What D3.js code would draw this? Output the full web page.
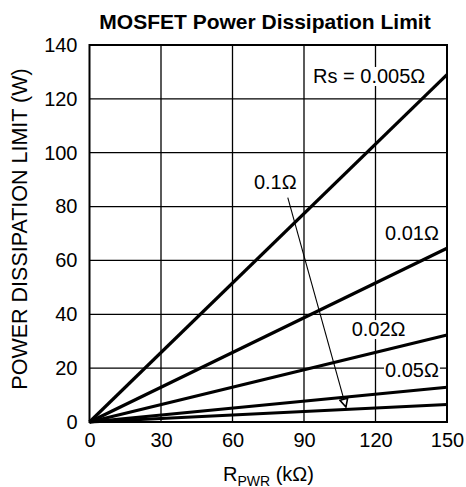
<!DOCTYPE html>
<html>
<head>
<meta charset="utf-8">
<script src="https://cdn.jsdelivr.net/npm/d3@7"></script>
<style>
  body { margin: 0; background: #fff; }
  text { font-family: "Liberation Sans", Arial, Helvetica, sans-serif; fill: #000; }
</style>
</head>
<body>
<svg id="chart" width="466" height="487"></svg>
<script>
// R_PWR end points (kOhm) and power limit (W) for each sense resistor
const rPwr = [0, 150];
const rsNames = ["0.005", "0.01", "0.02", "0.05", "0.1"];
const pRs0005 = [0, 129];
const pRs001 = [0, 64.5];
const pRs002 = [0, 32.3];
const pRs005 = [0, 12.9];
const pRs01 = [0, 6.5];
const xTicks = [0, 30, 60, 90, 120, 150];
const yTicks = [0, 20, 40, 60, 80, 100, 120, 140];

// label anchor spots, in data units
const labelR = [93.8, 124.0, 110.0, 124.0, 69.0];
const labelP = [125.9, 67.6, 31.9, 16.6, 86.5];

const series = [pRs0005, pRs001, pRs002, pRs005, pRs01];

const svg = d3.select("#chart");

const margin = { top: 45, right: 19, bottom: 65, left: 89.5 },
  width = 466 - margin.left - margin.right,
  height = 487 - margin.top - margin.bottom;

const x = d3.scaleLinear().domain([0, 150]).range([0, width]);
const y = d3.scaleLinear().domain([0, 140]).range([height, 0]);

const g = svg.append("g")
  .attr("transform", "translate(" + margin.left + "," + margin.top + ")");

// title
svg.append("text")
  .attr("x", 265)
  .attr("y", 29)
  .attr("text-anchor", "middle")
  .style("font-weight", "bold")
  .style("font-size", "21px")
  .text("MOSFET Power Dissipation Limit");

// grid
g.selectAll(".vgrid")
  .data(xTicks.slice(1, -1))
  .enter().append("line")
  .attr("x1", d => x(d)).attr("x2", d => x(d))
  .attr("y1", 0).attr("y2", height)
  .attr("stroke", "#000").attr("stroke-width", 1.3);

g.selectAll(".hgrid")
  .data(yTicks.slice(1, -1))
  .enter().append("line")
  .attr("y1", d => y(d)).attr("y2", d => y(d))
  .attr("x1", 0).attr("x2", width)
  .attr("stroke", "#000").attr("stroke-width", 1.3);

// axes
let xAxisG = g.append("g")
  .attr("transform", "translate(0," + height + ")")
  .call(d3.axisBottom(x).tickValues(xTicks).tickSize(0).tickPadding(11));
xAxisG.select(".domain").remove();
xAxisG.selectAll("text").style("font-size", "20px").style("font-family", null);

let yAxisG = g.append("g")
  .call(d3.axisLeft(y).tickValues(yTicks).tickSize(0).tickPadding(12));
yAxisG.select(".domain").remove();
yAxisG.selectAll("text").style("font-size", "20px").style("font-family", null);

// lines
const line = d3.line()
  .x((d, i) => x(rPwr[i]))
  .y(d => y(d));

g.selectAll(".rs-line")
  .data(series)
  .enter().append("path")
  .attr("fill", "none")
  .attr("stroke", "#000")
  .attr("stroke-width", 3.2)
  .attr("d", line);

// frame
g.append("rect")
  .attr("width", width).attr("height", height)
  .attr("fill", "none")
  .attr("stroke", "#000")
  .attr("stroke-width", 2);

// arrow from 0.1 label down to its line
svg.append("defs").append("marker")
  .attr("id", "head")
  .attr("markerUnits", "userSpaceOnUse")
  .attr("viewBox", "0 0 10 10")
  .attr("refX", 9).attr("refY", 5)
  .attr("markerWidth", 10).attr("markerHeight", 10)
  .attr("orient", "auto")
  .append("path")
  .attr("d", "M1,1 L9,5 L1,9 Z")
  .attr("fill", "#fff")
  .attr("stroke", "#000")
  .attr("stroke-width", 1.6);

g.append("line")
  .attr("x1", x(83.2)).attr("y1", y(83.3))
  .attr("x2", x(107.6)).attr("y2", y(5.6))
  .attr("stroke", "#000")
  .attr("stroke-width", 1.1)
  .attr("marker-end", "url(#head)");

// series labels on white boxes
rsNames.forEach((name, i) => {
  const lg = g.append("g");
  const t = lg.append("text")
    .attr("x", x(labelR[i]))
    .attr("y", y(labelP[i]))
    .style("font-size", "20px")
    .text((i === 0 ? "Rs = " : "") + name + "\u03A9");
  const b = t.node().getBBox();
  lg.insert("rect", "text")
    .attr("x", b.x - 1).attr("y", b.y + 2)
    .attr("width", b.width + 2).attr("height", b.height - 3)
    .attr("fill", "#fff");
});

// axis titles
svg.append("text")
  .attr("transform", "translate(26.5,229) rotate(-90)")
  .attr("text-anchor", "middle")
  .style("font-size", "21.5px")
  .text("POWER DISSIPATION LIMIT (W)");

const xt = svg.append("text")
  .attr("x", 268.5)
  .attr("y", 480.5)
  .attr("text-anchor", "middle")
  .style("font-size", "20px");
xt.append("tspan").text("R");
xt.append("tspan").attr("dy", 5).style("font-size", "14px").text("PWR");
xt.append("tspan").attr("dy", -5).text(" (k\u03A9)");
</script>
</body>
</html>
